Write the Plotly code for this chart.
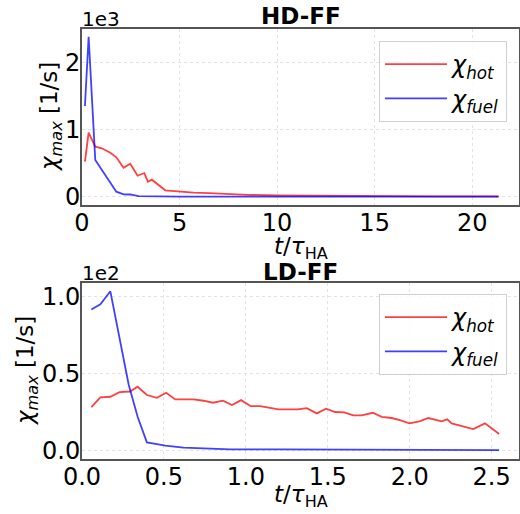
import plotly.graph_objects as go

# ---------------- data ----------------
hd_t_hot = [0.15, 0.34, 0.68, 1.02, 1.45, 1.76, 2.13, 2.47, 2.85, 3.19, 3.38, 3.58,
            4.27, 5.03, 5.71, 6.5, 7.6, 8.5, 10, 12, 14, 16, 18, 20, 21.35]
hd_chi_hot = [522, 955, 746, 722, 657, 588, 433, 493, 313, 353, 224, 254,
              95, 75, 60, 52, 36, 28, 18, 12, 9, 7, 6, 5, 5]
hd_t_fuel = [0.15, 0.34, 0.68, 1.02, 1.45, 1.76, 2.13, 2.47, 2.9, 3.5, 5, 7, 10, 15, 21.35]
hd_chi_fuel = [1353, 2388, 548, 400, 211, 75, 36, 33, 8, 4, 2, 1.5, 1, 1, 1]

ld_t_hot = [0.057, 0.112, 0.173, 0.229, 0.294, 0.339, 0.396, 0.457, 0.514, 0.569, 0.625,
            0.68, 0.742, 0.799, 0.86, 0.915, 0.971, 1.03, 1.087, 1.143, 1.199, 1.255,
            1.315, 1.372, 1.433, 1.49, 1.545, 1.6, 1.656, 1.707, 1.774, 1.829, 1.89,
            1.945, 1.998, 2.059, 2.113, 2.195, 2.229, 2.256, 2.317, 2.388, 2.459, 2.546]
ld_chi_hot = [28.5, 34.8, 35.2, 38.2, 38.6, 41.7, 36.3, 34.5, 37.8, 33.5, 33.5,
              33.5, 32.6, 31.3, 32.6, 29.8, 33.0, 29.1, 29.1, 28.0, 27.0, 27.0,
              27.0, 27.8, 24.4, 27.4, 25.3, 25.0, 23.1, 23.1, 24.8, 22.2, 21.4,
              19.8, 17.9, 19.2, 21.4, 19.2, 20.5, 17.9, 16.2, 14.2, 17.9, 11.0]
ld_t_fuel = [0.057, 0.112, 0.173, 0.229, 0.285, 0.34, 0.396, 0.457, 0.508, 0.62, 0.75,
             0.904, 1.2, 1.6, 2.0, 2.546]
ld_chi_fuel = [91.8, 95.2, 103.6, 74.0, 43.0, 22.0, 5.6, 4.5, 3.5, 2.2, 1.6,
               1.1, 1.0, 0.8, 0.6, 0.5]

hd_xticks = [0, 5, 10, 15, 20]
hd_yticks = [0, 1000, 2000]
hd_yticktext = ["0", "1", "2"]
ld_xticks = [0.0, 0.5, 1.0, 1.5, 2.0, 2.5]
ld_xticktext = ["0.0", "0.5", "1.0", "1.5", "2.0", "2.5"]
ld_yticks = [0, 50, 100]
ld_yticktext = ["0.0", "0.5", "1.0"]

# ---------------- figure ----------------
W, H = 520, 514
FONT = "DejaVu Sans"
RED = "rgba(255,0,0,0.75)"
BLUE = "rgba(0,0,255,0.75)"
HOT = "<i>χ</i><sub><i>hot</i></sub>"
FUEL = "<i>χ</i><sub><i>fuel</i></sub>"
YLAB = "<i>χ</i><sub><i>max</i></sub> [1/s]"
XLAB = "<i>t</i>/<i>τ</i><sub>HA</sub>"

def px_x(p):
    return p / W

def px_y(p):
    return 1 - p / H

fig = go.Figure()
fig.add_trace(go.Scatter(x=hd_t_hot, y=hd_chi_hot, mode="lines", line=dict(color=RED, width=1.8),
                         name=HOT, xaxis="x", yaxis="y", legend="legend"))
fig.add_trace(go.Scatter(x=hd_t_fuel, y=hd_chi_fuel, mode="lines", line=dict(color=BLUE, width=1.8),
                         name=FUEL, xaxis="x", yaxis="y", legend="legend"))
fig.add_trace(go.Scatter(x=ld_t_hot, y=ld_chi_hot, mode="lines", line=dict(color=RED, width=1.8),
                         name=HOT, xaxis="x2", yaxis="y2", legend="legend2"))
fig.add_trace(go.Scatter(x=ld_t_fuel, y=ld_chi_fuel, mode="lines", line=dict(color=BLUE, width=1.8),
                         name=FUEL, xaxis="x2", yaxis="y2", legend="legend2"))

axis_common = dict(showline=True, mirror=True, linecolor="#555", linewidth=2,
                   ticks="", showgrid=True, gridcolor="#e3e3e3", griddash="dot", gridwidth=1,
                   zeroline=False, automargin=False, ticklabelstandoff=-5,
                   tickfont=dict(family=FONT, size=24, color="black"))

legend_common = dict(xanchor="right", yanchor="top", bgcolor="rgba(255,255,255,0.8)",
                     bordercolor="#d0d0d0", borderwidth=1,
                     font=dict(family=FONT, size=24), itemwidth=62, tracegroupgap=0)

xdom = [px_x(82), px_x(519)]
fig.update_layout(
    width=W, height=H, margin=dict(l=0, r=0, t=0, b=0, autoexpand=False),
    paper_bgcolor="white", plot_bgcolor="white",
    font=dict(family=FONT, color="black"),
    xaxis=dict(domain=xdom, range=[0, 22.4], tickvals=hd_xticks, anchor="y", **axis_common),
    yaxis=dict(domain=[px_y(205), px_y(29)], range=[-124, 2503], tickvals=hd_yticks,
               ticktext=hd_yticktext, anchor="x", **axis_common),
    xaxis2=dict(domain=xdom, range=[0, 2.667], tickvals=ld_xticks, ticktext=ld_xticktext,
                anchor="y2", **axis_common),
    yaxis2=dict(domain=[px_y(459), px_y(283)], range=[-5.2, 109], tickvals=ld_yticks,
                ticktext=ld_yticktext, anchor="x2", **axis_common),
    legend=dict(x=px_x(507), y=px_y(41), **legend_common),
    legend2=dict(x=px_x(507), y=px_y(294), **legend_common),
    showlegend=True,
)

xc = (xdom[0] + xdom[1]) / 2

def note(text, x, y, size, angle=0, xanchor="center"):
    return dict(text=text, x=x, y=y, xref="paper", yref="paper", xanchor=xanchor,
                yanchor="middle", showarrow=False, textangle=angle,
                font=dict(family=FONT, size=size, color="black"))

annotations = [
    note("<b>HD-FF</b>", xc, px_y(16), 23),
    note("<b>LD-FF</b>", xc, px_y(272), 23),
    note("1e3", px_x(80), px_y(19), 20, xanchor="left"),
    note("1e2", px_x(80), px_y(273), 20, xanchor="left"),
    note(XLAB, xc, px_y(248), 23),
    note(XLAB, xc, px_y(496), 23),
    note(YLAB, px_x(51), px_y(117), 23, angle=-90),
    note(YLAB, px_x(27), px_y(371), 23, angle=-90),
]
fig.update_layout(annotations=annotations)

fig.write_html("out.html")
